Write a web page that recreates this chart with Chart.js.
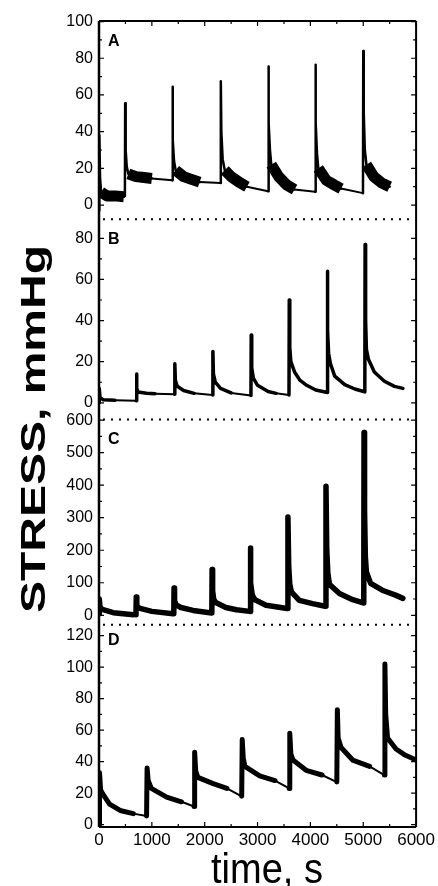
<!DOCTYPE html>
<html>
<head>
<meta charset="utf-8">
<title>Stress relaxation</title>
<script src="https://cdn.jsdelivr.net/npm/chart.js@4.4.1/dist/chart.umd.min.js"></script>
<style>
  html, body { margin: 0; padding: 0; background: #fff; }
  #wrap { width: 438px; height: 886px; }
</style>
</head>
<body>
<div id="wrap"><canvas id="stress" width="438" height="886"></canvas></div>
<script>
const FONT = "'Liberation Sans', Arial, Helvetica, sans-serif";

const timeTicks = [0, 1000, 2000, 3000, 4000, 5000, 6000];
const ticksA = [0, 20, 40, 60, 80, 100];
const ticksB = [0, 20, 40, 60, 80];
const ticksC = [0, 100, 200, 300, 400, 500, 600];
const ticksD = [0, 20, 40, 60, 80, 100, 120];
const panelNames = ['A', 'B', 'C', 'D'];

// recorded stretches, [time s, stress mmHg]; consecutive stretches are joined by a plain line
const stressA = [
  [[0, -3], [6, 38], [20, 15], [40, 7], [150, 5], [300, 5], [470, 4.5]],
  [[490, 5], [495, 55.5], [505, 30], [525, 21], [555, 17], [700, 15.5], [850, 15], [1000, 14.5]],
  [[1385, 13.5], [1390, 64.5], [1400, 36], [1420, 24], [1450, 19], [1600, 15.5], [1750, 14], [1905, 12.5]],
  [[2300, 12], [2305, 67.5], [2315, 40], [2340, 25], [2380, 19], [2500, 15.5], [2650, 12.5], [2800, 10]],
  [[3200, 7.5], [3205, 75.5], [3215, 45], [3235, 30], [3260, 22], [3400, 15.5], [3550, 11], [3700, 8.5]],
  [[4090, 7.2], [4095, 76.5], [4105, 45], [4125, 28], [4150, 20], [4300, 13.5], [4450, 11], [4580, 9]],
  [[4995, 6.5], [5000, 84], [5010, 50], [5030, 30], [5060, 22], [5200, 15.5], [5350, 12], [5500, 10]]
];
// time spans (s) where trace A is a noisy band
const noisyA = [[40, 470], [555, 1000], [1450, 1905], [2380, 2800], [3260, 3700], [4150, 4580], [5060, 5500]];

const stressB = [
  [[0, 0], [5, 7], [20, 2.5], [80, 1.5], [300, 1.2]],
  [[705, 1], [710, 14], [718, 7], [740, 5.2], [900, 4.6], [1060, 4.4]],
  [[1430, 4.2], [1435, 19], [1445, 11], [1480, 8], [1600, 6], [1800, 4.6]],
  [[2150, 3.8], [2155, 25], [2165, 14], [2200, 10], [2300, 7], [2500, 4.8]],
  [[2875, 3.5], [2880, 33], [2890, 17], [2920, 12], [3000, 8.5], [3200, 5.5], [3350, 4.6]],
  [[3595, 3.8], [3600, 50], [3610, 27], [3630, 20], [3700, 15], [3800, 11], [3930, 8.5], [4100, 6.2], [4300, 5.1]],
  [[4315, 5], [4320, 64], [4330, 35], [4345, 24], [4380, 19], [4460, 13], [4650, 8.8], [4840, 6.7], [5025, 5.4]],
  [[5030, 5.3], [5035, 77], [5045, 40], [5060, 26], [5100, 21], [5210, 15], [5400, 10.5], [5590, 8], [5750, 7]]
];

const stressC = [
  [[0, 5], [5, 50], [20, 25], [60, 18], [270, 8], [650, 2]],
  [[700, 2], [705, 56], [715, 30], [760, 22], [1000, 12], [1400, 5]],
  [[1415, 5], [1420, 84], [1430, 45], [1460, 32], [1550, 24], [1780, 15], [2130, 7]],
  [[2135, 7], [2140, 141], [2150, 75], [2170, 50], [2200, 40], [2400, 24], [2600, 17], [2850, 12]],
  [[2858, 12], [2862, 207], [2875, 100], [2900, 62], [2950, 48], [3160, 31], [3560, 21]],
  [[3570, 21], [3575, 302], [3590, 150], [3610, 95], [3640, 72], [3790, 46], [4040, 36], [4280, 28]],
  [[4290, 28], [4295, 397], [4310, 200], [4330, 130], [4360, 95], [4550, 67], [4800, 48], [5000, 38]],
  [[5010, 38], [5015, 562], [5025, 320], [5040, 180], [5060, 133], [5140, 98], [5360, 77], [5610, 62], [5750, 52]]
];

const stressD = [
  [[0, 0], [10, 33], [30, 22], [80, 19], [200, 13], [400, 9], [650, 7]],
  [[900, 5.5], [910, 36], [930, 28], [990, 23], [1280, 17.5], [1560, 14.5]],
  [[1800, 11.5], [1810, 46], [1830, 34], [1870, 30], [2160, 26], [2420, 23]],
  [[2700, 18], [2710, 54], [2730, 42], [2760, 37], [3040, 31], [3330, 28]],
  [[3600, 23], [3610, 58], [3630, 45], [3670, 41], [3920, 34.5], [4220, 31.5]],
  [[4500, 27], [4510, 73], [4525, 55], [4580, 49], [4800, 41], [5120, 37]],
  [[5400, 31.5], [5410, 102], [5425, 70], [5460, 55], [5620, 48], [5800, 44], [6000, 41]]
];

// stretches -> one point list, null between stretches breaks the line
function recorded(stretches) {
  const out = [];
  stretches.forEach((s, i) => {
    if (i) out.push({ x: s[0][0], y: null });
    s.forEach(([x, y]) => out.push({ x, y }));
  });
  return out;
}

// straight joins from the end of one stretch to the start of the next
function joins(stretches) {
  const out = [];
  for (let i = 1; i < stretches.length; i++) {
    const prev = stretches[i - 1];
    const a = prev[prev.length - 1], b = stretches[i][0];
    out.push({ x: a[0], y: a[1] }, { x: b[0], y: b[1] }, { x: b[0], y: null });
  }
  return out;
}

function within(stretches, spans) {
  const all = stretches.flat();
  const out = [];
  spans.forEach(([t0, t1]) => {
    all.filter(([x]) => x >= t0 && x <= t1).forEach(([x, y]) => out.push({ x, y }));
    out.push({ x: t1, y: null });
  });
  return out;
}

function line(yAxisID, data, width, cap) {
  return {
    data, yAxisID, xAxisID: 'x',
    borderColor: '#000', borderWidth: width,
    pointRadius: 0, tension: 0, fill: false, spanGaps: false,
    borderJoinStyle: 'round', borderCapStyle: cap || 'round'
  };
}

function yScale(min, max, ticks, weight) {
  return {
    type: 'linear', position: 'left', stack: 'panels', stackWeight: weight,
    min, max,
    grid: { display: false, drawTicks: false },
    border: { display: false },
    afterBuildTicks(scale) { scale.ticks = ticks.map(value => ({ value })); },
    ticks: {
      padding: 6, color: '#000', autoSkip: false,
      font: { family: FONT, size: 16 },
      callback: v => String(v)
    },
    afterFit(scale) { scale.width = 99; }
  };
}

// frame, dotted panel separators, inward ticks, panel letters and axis titles
const panelFrame = {
  id: 'panelFrame',
  afterDraw(chart) {
    const { ctx, chartArea: a } = chart;
    const ids = ['yA', 'yB', 'yC', 'yD'];
    ctx.save();
    ctx.strokeStyle = '#000';
    ctx.fillStyle = '#000';

    ctx.lineWidth = 2.5;
    ctx.beginPath();
    ctx.moveTo(a.left, a.top); ctx.lineTo(a.left, a.bottom);
    ctx.stroke();
    ctx.lineWidth = 2;
    ctx.beginPath();
    ctx.moveTo(a.left, a.top); ctx.lineTo(a.right, a.top);
    ctx.moveTo(a.right, a.top); ctx.lineTo(a.right, a.bottom);
    ctx.moveTo(a.left, a.bottom); ctx.lineTo(a.right, a.bottom);
    ctx.stroke();

    ctx.lineWidth = 2;
    ctx.setLineDash([2, 6]);
    ids.slice(1).forEach(id => {
      const s = chart.scales[id];
      ctx.beginPath();
      ctx.moveTo(a.left + 4, s.top); ctx.lineTo(a.right - 2, s.top);
      ctx.stroke();
    });
    ctx.setLineDash([]);

    // inward ticks, majors and halfway minors
    ctx.lineWidth = 1.2;
    ids.forEach(id => {
      const s = chart.scales[id];
      const vals = s.ticks.map(t => t.value);
      const step = vals[1] - vals[0];
      ctx.beginPath();
      for (let v = vals[0]; v <= s.max; v += step / 2) {
        const y = s.getPixelForValue(v);
        const len = (Math.round(v / step * 2) % 2) ? 3 : 5;
        ctx.moveTo(a.left, y); ctx.lineTo(a.left + len, y);
        ctx.moveTo(a.right, y); ctx.lineTo(a.right - len, y);
      }
      ctx.stroke();
    });
    const xs = chart.scales.x;
    ctx.beginPath();
    for (let t = 0; t <= 6000; t += 500) {
      const x = xs.getPixelForValue(t);
      const len = t % 1000 ? 3 : 5;
      ctx.moveTo(x, a.top); ctx.lineTo(x, a.top + len);
      ctx.moveTo(x, a.bottom); ctx.lineTo(x, a.bottom - len);
    }
    ctx.stroke();

    ctx.font = 'bold 16px ' + FONT;
    ctx.textAlign = 'left';
    ctx.textBaseline = 'alphabetic';
    ids.forEach((id, i) => {
      const s = chart.scales[id];
      ctx.fillText(panelNames[i], a.left + 9, s.top + (i === 3 ? 20 : 25));
    });

    // y title, stretched along its run
    ctx.save();
    ctx.translate(45, 429);
    ctx.rotate(-Math.PI / 2);
    ctx.font = 'bold 35px ' + FONT;
    ctx.textAlign = 'center';
    const yTitle = 'STRESS, mmHg';
    ctx.scale(368 / ctx.measureText(yTitle).width, 1);
    ctx.fillText(yTitle, 0, 0);
    ctx.restore();

    ctx.save();
    ctx.translate(267, 883);
    ctx.font = '42px ' + FONT;
    ctx.textAlign = 'center';
    const xTitle = 'time, s';
    ctx.scale(112 / ctx.measureText(xTitle).width, 1);
    ctx.fillText(xTitle, 0, 0);
    ctx.restore();

    ctx.restore();
  }
};

new Chart(document.getElementById('stress'), {
  type: 'line',
  data: {
    datasets: [
      line('yA', recorded(stressA), 2.5),
      line('yA', joins(stressA), 2),
      line('yA', within(stressA, noisyA), 11, 'butt'),
      line('yB', recorded(stressB), 3.5),
      line('yB', joins(stressB), 2),
      line('yC', recorded(stressC), 5.5),
      line('yC', joins(stressC), 2),
      line('yD', recorded(stressD), 5),
      line('yD', joins(stressD), 2)
    ]
  },
  options: {
    responsive: false,
    animation: false,
    events: [],
    layout: { padding: { left: 0, right: 20, top: 21, bottom: 0 } },
    plugins: { legend: { display: false }, tooltip: { enabled: false } },
    scales: {
      x: {
        type: 'linear', position: 'bottom', min: 0, max: 6000,
        grid: { display: false, drawTicks: false },
        border: { display: false },
        afterBuildTicks(scale) { scale.ticks = timeTicks.map(value => ({ value })); },
        ticks: {
          padding: 3, color: '#000', maxRotation: 0, autoSkip: false,
          font: { family: FONT, size: 17 },
          callback: v => String(v)
        },
        afterFit(scale) { scale.height = 59; }
      },
      yD: yScale(-1.5, 126.9, ticksD, 202.2),
      yC: yScale(-29, 602, ticksC, 205.2),
      yB: yScale(-8.1, 89.2, ticksB, 200),
      yA: yScale(-7.8, 100.3, ticksA, 198.3)
    }
  },
  plugins: [panelFrame]
});
</script>
</body>
</html>
